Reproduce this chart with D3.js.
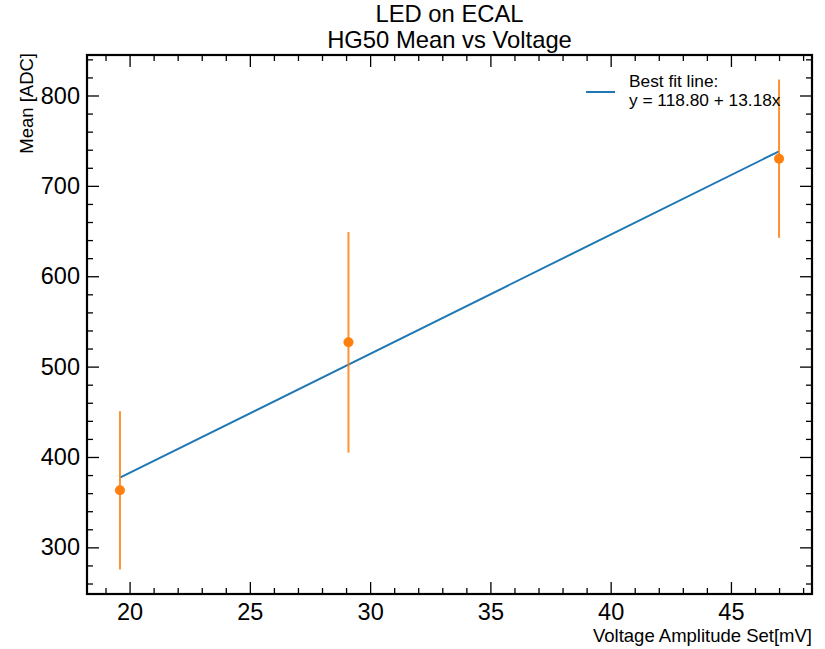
<!DOCTYPE html>
<html>
<head>
<meta charset="utf-8">
<script src="https://cdn.jsdelivr.net/npm/d3@7"></script>
<style>
  html, body { margin: 0; padding: 0; background: #fff; }
  svg { display: block; }
  text { font-family: "Liberation Sans", Arial, Helvetica, sans-serif; fill: #000; }
</style>
</head>
<body>
<svg id="chart" width="825" height="649"></svg>
<script>
// ---- data ----
const voltages = [19.6, 29.1, 47.0];          // Voltage Amplitude Set [mV]
const means    = [363.1, 526.9, 730.1];       // Mean [ADC]
const errors   = [87.6, 122.0, 87.6];         // error bar half-lengths
const fitIntercept = 118.80;
const fitSlope     = 13.18;
const xTicks = [20, 25, 30, 35, 40, 45];
const yTicks = [300, 400, 500, 600, 700, 800];
const titleLines = ["LED on ECAL", "HG50 Mean vs Voltage"];
const xLabel = "Voltage Amplitude Set[mV]";
const yLabel = "Mean [ADC]";
const legendLines = ["Best fit line:", "y = 118.80 + 13.18x"];

// ---- layout ----
const W = 825, H = 649;
const m = { left: 87, right: 13, top: 55, bottom: 55 };
const iw = W - m.left - m.right, ih = H - m.top - m.bottom;

const svg = d3.select("#chart");
const g = svg.append("g").attr("transform", `translate(${m.left},${m.top})`);

// domains with 5% padding (matplotlib style)
function pad(lo, hi) { const d = (hi - lo) * 0.05; return [lo - d, hi + d]; }
const xExt = d3.extent(voltages);
const yLo = d3.min(means.map((v, i) => v - errors[i]));
const yHi = d3.max(means.map((v, i) => v + errors[i]));
const x = d3.scaleLinear().domain(pad(xExt[0], xExt[1])).range([0, iw]);
const y = d3.scaleLinear().domain(pad(yLo, yHi)).range([ih, 0]);

const blue = "#1f77b4", orange = "#ff7f0e";

// fit line
const fitX = xExt;
g.append("path")
  .datum(fitX.map(v => [v, fitIntercept + fitSlope * v]))
  .attr("d", d3.line().x(d => x(d[0])).y(d => y(d[1])))
  .attr("fill", "none").attr("stroke", blue).attr("stroke-width", 2);

// error bars
g.selectAll("line.err").data(voltages).enter().append("line")
  .attr("class", "err")
  .attr("x1", d => x(d)).attr("x2", d => x(d))
  .attr("y1", (d, i) => y(means[i] - errors[i]))
  .attr("y2", (d, i) => y(means[i] + errors[i]))
  .attr("stroke", orange).attr("stroke-width", 2).attr("stroke-opacity", 0.85);

g.selectAll("circle.pt").data(voltages).enter().append("circle")
  .attr("class", "pt")
  .attr("cx", d => x(d)).attr("cy", (d, i) => y(means[i]))
  .attr("r", 5).attr("fill", orange);

// ---- axes with inward ticks on all four sides ----
const fs = 23.5;
const xMinor = d3.range(18, 49, 1).filter(v => v >= x.domain()[0] && v <= x.domain()[1] && !xTicks.includes(v));
const yMinor = d3.range(240, 860, 20).filter(v => v >= y.domain()[0] && v <= y.domain()[1] && !yTicks.includes(v));

function styleAxis(sel) {
  sel.select(".domain").remove();
  sel.selectAll(".tick line").attr("stroke", "#000").attr("stroke-width", 1.3);
}

// bottom
g.append("g").attr("transform", `translate(0,${ih})`)
  .call(d3.axisBottom(x).tickValues(xTicks).tickSize(-12).tickFormat(d3.format("d")))
  .call(styleAxis)
  .call(s => s.selectAll("text").attr("font-size", fs).attr("font-family", "Liberation Sans, Arial, sans-serif").attr("dy", "0.71em").attr("y", 9));
g.append("g").attr("transform", `translate(0,${ih})`)
  .call(d3.axisBottom(x).tickValues(xMinor).tickSize(-6).tickFormat(""))
  .call(styleAxis);
// top
g.append("g")
  .call(d3.axisTop(x).tickValues(xTicks).tickSize(-12).tickFormat(""))
  .call(styleAxis);
g.append("g")
  .call(d3.axisTop(x).tickValues(xMinor).tickSize(-6).tickFormat(""))
  .call(styleAxis);
// left
g.append("g")
  .call(d3.axisLeft(y).tickValues(yTicks).tickSize(-12).tickFormat(d3.format("d")))
  .call(styleAxis)
  .call(s => s.selectAll("text").attr("font-size", fs).attr("font-family", "Liberation Sans, Arial, sans-serif").attr("x", -7));
g.append("g")
  .call(d3.axisLeft(y).tickValues(yMinor).tickSize(-6).tickFormat(""))
  .call(styleAxis);
// right
g.append("g").attr("transform", `translate(${iw},0)`)
  .call(d3.axisRight(y).tickValues(yTicks).tickSize(-12).tickFormat(""))
  .call(styleAxis);
g.append("g").attr("transform", `translate(${iw},0)`)
  .call(d3.axisRight(y).tickValues(yMinor).tickSize(-6).tickFormat(""))
  .call(styleAxis);

// frame
g.append("rect").attr("x", 0).attr("y", 0).attr("width", iw).attr("height", ih)
  .attr("fill", "none").attr("stroke", "#000").attr("stroke-width", 2.2);

// ---- labels ----
svg.append("text")
  .attr("x", m.left + iw).attr("y", H - 7)
  .attr("text-anchor", "end").attr("font-size", 18.5)
  .text(xLabel);
svg.append("text")
  .attr("transform", `translate(${33},${m.top - 2}) rotate(-90)`)
  .attr("text-anchor", "end").attr("font-size", 18.5)
  .text(yLabel);

// title
titleLines.forEach((t, i) => {
  svg.append("text")
    .attr("x", m.left + iw / 2).attr("y", 22 + i * 26)
    .attr("text-anchor", "middle").attr("font-size", 23.8)
    .text(t);
});

// legend
const lg = svg.append("g");
lg.append("line").attr("x1", 586).attr("x2", 615).attr("y1", 92).attr("y2", 92)
  .attr("stroke", blue).attr("stroke-width", 2);
legendLines.forEach((t, i) => {
  lg.append("text").attr("x", 629).attr("y", 87 + i * 19)
    .attr("font-size", 17.3).text(t);
});
</script>
</body>
</html>
